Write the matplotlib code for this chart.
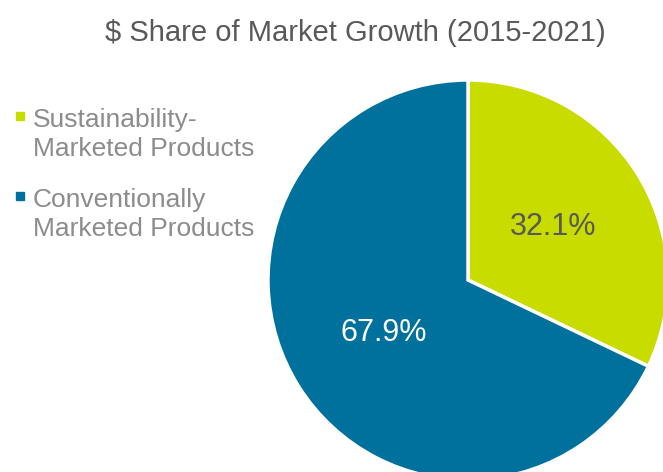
import matplotlib

matplotlib.use("Agg")
import matplotlib.pyplot as plt

plt.rcParams["font.family"] = ["Liberation Sans", "DejaVu Sans"]

labels = ["Sustainability-\nMarketed Products", "Conventionally\nMarketed Products"]
shares = [32.1, 67.9]
colors = ["#C8DC00", "#00709C"]
pct_colors = ["#595959", "white"]
title = "$ Share of Market Growth (2015-2021)"

W, H = 663, 472
fig = plt.figure(figsize=(W / 100, H / 100), dpi=100)
# axes span the whole figure so data units are pixels
ax = fig.add_axes([0, 0, 1, 1])

wedges, texts, autotexts = ax.pie(
    shares,
    colors=colors,
    startangle=90,
    counterclock=False,
    center=(468, H - 280),
    radius=200,
    autopct="%.1f%%",
    pctdistance=0.5,
    wedgeprops=dict(edgecolor="white", linewidth=2.5),
    frame=True,
)
ax.set_xlim(0, W)
ax.set_ylim(0, H)
ax.set_aspect("equal")
ax.axis("off")
for t, c in zip(autotexts, pct_colors):
    t.set_color(c)
    t.set_fontsize(22)

ax.text(355, H - 33, title, ha="center", va="center", fontsize=21, color="#595959")

# legend: small square key beside the first line of each label
for i, (lab, col) in enumerate(zip(labels, colors)):
    y = H - 116 - 80 * i
    ax.plot(19.5, y, marker="s", ms=5.5, color=col, linestyle="none")
    ax.text(33, y + 8, lab, ha="left", va="top", fontsize=19,
            color="#8C8C8C", linespacing=1.27)

fig.savefig("out.png", dpi=100)
